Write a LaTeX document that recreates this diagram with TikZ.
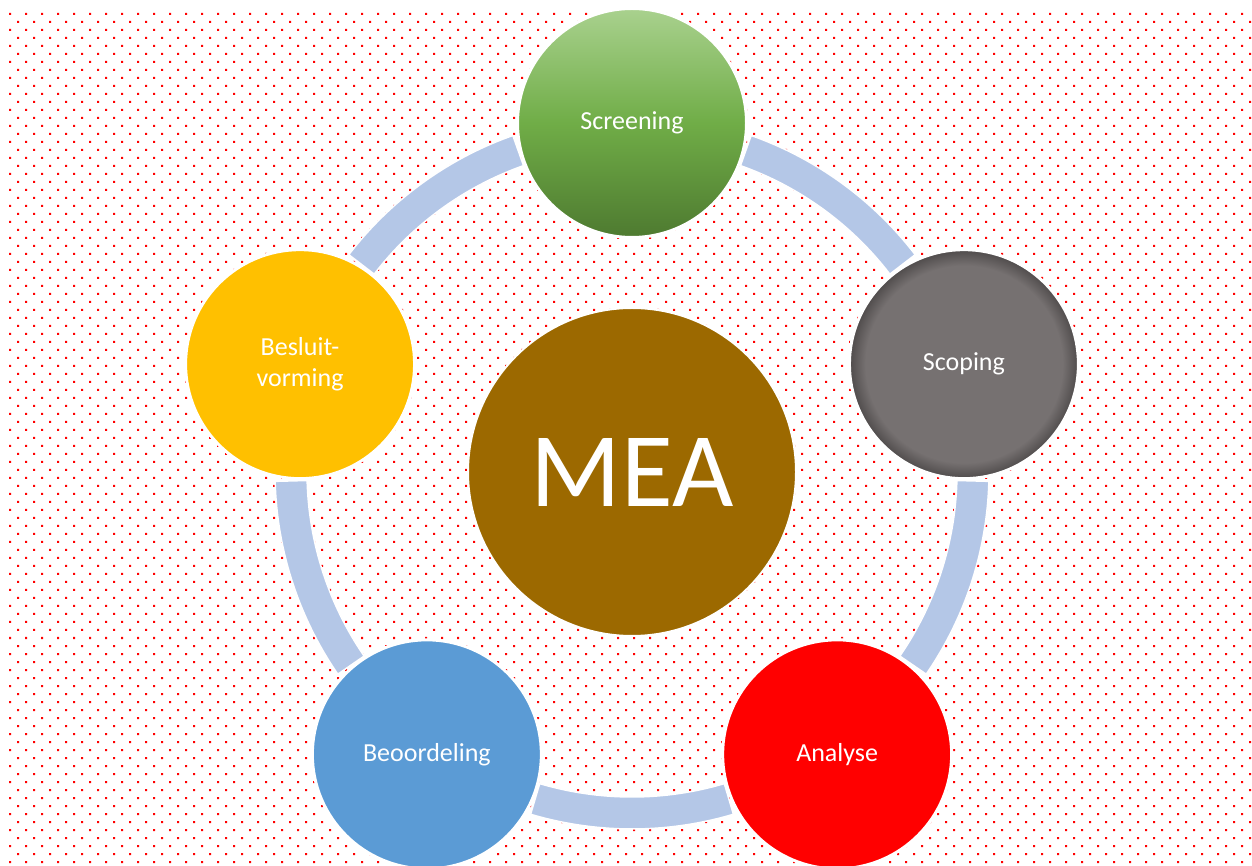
\documentclass[tikz,border=0pt]{standalone}
\usepackage{fontspec}
\setmainfont{Carlito}
\usepackage{tikz}

\definecolor{dotred}{HTML}{FF0000}
\definecolor{ringblue}{HTML}{B4C7E7}
\definecolor{greenlight}{HTML}{A9D18E}
\definecolor{greenmid}{HTML}{70AD47}
\definecolor{greendark}{HTML}{4E7A30}
\definecolor{greymid}{HTML}{767171}
\definecolor{greyedge}{HTML}{4F4B4B}
\definecolor{besluitgold}{HTML}{FFC000}
\definecolor{beoordblue}{HTML}{5B9BD5}
\definecolor{meabrown}{HTML}{9C6900}

\pgfdeclareverticalshading{screengreen}{100bp}{color(0bp)=(greendark); color(25bp)=(greendark); color(50bp)=(greenmid); color(75bp)=(greenlight); color(100bp)=(greenlight)}
\pgfdeclareradialshading{scopegrey}{\pgfpoint{0bp}{0bp}}{color(0bp)=(greymid); color(21.5bp)=(greymid); color(25bp)=(greyedge); color(50bp)=(greyedge)}

\tikzset{
  stage/.style={circle, draw=white, line width=3pt, minimum size=229pt, inner sep=0pt,
    text=white, align=center, font=\fontsize{26}{31}\selectfont},
  ringpart/.style={fill=ringblue, draw=white, line width=1.5pt}
}

\begin{document}
\begin{tikzpicture}[x=1pt, y=1pt]
      \useasboundingbox (0,0) rectangle (1252,865);
      % Dotted background:
      \fill[dotred] \foreach \y in {851,835,...,3} {\foreach \x in {10,26,...,1242} {(\x-1,\y-1) rectangle ++(2,2)}};
      \fill[dotred] \foreach \y in {843,827,...,11} {\foreach \x in {18,34,...,1250} {(\x-1,\y-1) rectangle ++(2,2)}};
      % Ring:
      \coordinate (mid) at (632,393);
      \foreach \a in {90,18,-54,-126,-198}
        \draw[ringpart] ([shift={(\a-19.5:325)}]mid) arc[start angle=\a-19.5, end angle=\a-52.5, radius=325]
          -- ([shift={(\a-52.5:357)}]mid) arc[start angle=\a-52.5, end angle=\a-19.5, radius=357] -- cycle;
      % Stages:
      \node[stage, shading=screengreen] (screening) at ([shift={(90:349)}]mid) {Screening};
      \node[stage, shading=scopegrey] (scoping) at ([shift={(18:349)}]mid) {Scoping};
      \node[stage, fill=dotred] (analyse) at ([shift={(-54:349)}]mid) {Analyse};
      \node[stage, fill=beoordblue] (beoordeling) at ([shift={(-126:349)}]mid) {Beoordeling};
      \node[stage, fill=besluitgold] (besluit) at ([shift={(162:349)}]mid) {Besluit-\\vorming};
      % Centre:
      \node[circle, draw=white, line width=2pt, fill=meabrown, minimum size=328pt, text=white,
        font=\fontsize{106}{120}\selectfont] (mea) at (mid) {MEA};
\end{tikzpicture}
\end{document}
